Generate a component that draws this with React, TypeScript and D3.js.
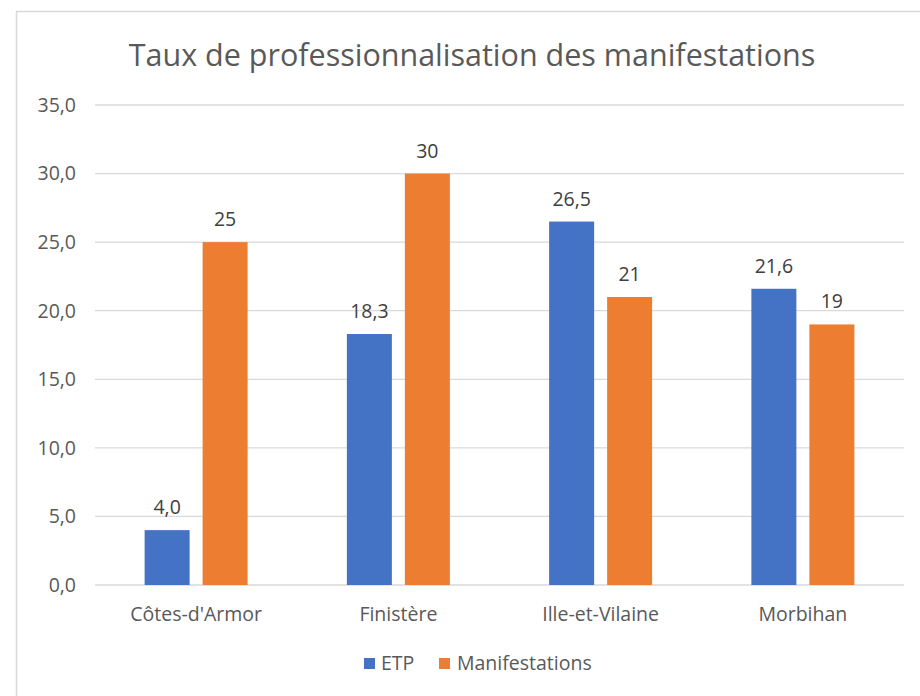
import React from "react";
import * as d3 from "d3";

const categories = ["Côtes-d'Armor", "Finistère", "Ille-et-Vilaine", "Morbihan"];
const seriesNames = ["ETP", "Manifestations"];
const etpValues = [4.0, 18.3, 26.5, 21.6];
const manifValues = [25, 30, 21, 19];
const etpLabels = ["4,0", "18,3", "26,5", "21,6"];
const manifLabels = ["25", "30", "21", "19"];
const yTicks = [0, 5, 10, 15, 20, 25, 30, 35];
const colors = ["#4472C4", "#ED7D31"];

const W = 920;
const H = 696;
const FONT = "'Open Sans', 'Noto Sans', sans-serif";
const FS = 19.5;

export default function App() {
  const plotLeft = 95;
  const plotRight = 904;
  const plotTop = 105;
  const plotBottom = 585;

  const y = d3.scaleLinear().domain([0, 35]).range([plotBottom, plotTop]);
  const x0 = d3.scaleBand<string>().domain(categories).range([plotLeft, plotRight]).paddingInner(0).paddingOuter(0);
  const bw = x0.bandwidth();
  const barW = 45;
  const gap = 13;
  const groupW = barW * 2 + gap;
  const x1 = d3
    .scaleOrdinal<string, number>()
    .domain(seriesNames)
    .range([(bw - groupW) / 2, (bw - groupW) / 2 + barW + gap]);

  const series = [
    { name: seriesNames[0], values: etpValues, labels: etpLabels, color: colors[0] },
    { name: seriesNames[1], values: manifValues, labels: manifLabels, color: colors[1] },
  ];

  const fmt = (v: number) => d3.format(".1f")(v).replace(".", ",");

  return (
    <svg
      width={W}
      height={H}
      style={{ position: "absolute", left: 0, top: 0, background: "#fff" }}
      fontFamily={FONT}
    >
      <rect x={0} y={0} width={W} height={H} fill="#fff" />
      {/* chart frame */}
      <rect x={16.5} y={11.5} width={W + 10} height={H + 10} fill="#fff" stroke="#d9d9d9" strokeWidth={1.5} />
      <text x={472} y={66} textAnchor="middle" fontSize={30.5} fill="#595959">
        Taux de professionnalisation des manifestations
      </text>
      {/* gridlines */}
      {yTicks.map((t) => (
        <g key={t}>
          <line x1={plotLeft} x2={plotRight} y1={y(t)} y2={y(t)} stroke="#d9d9d9" strokeWidth={1.3} />
          <text x={76} y={y(t)} dy="0.35em" textAnchor="end" fontSize={FS} fill="#595959">
            {fmt(t)}
          </text>
        </g>
      ))}
      {/* bars */}
      {series.map((s) =>
        categories.map((c, i) => {
          const bx = (x0(c) as number) + (x1(s.name) as number);
          const by = y(s.values[i]);
          return (
            <g key={s.name + c}>
              <rect x={bx} y={by} width={barW} height={plotBottom - by} fill={s.color} />
              <text x={bx + barW / 2} y={by - 16} textAnchor="middle" fontSize={FS} fill="#404040">
                {s.labels[i]}
              </text>
            </g>
          );
        })
      )}
      {/* category labels */}
      {categories.map((c) => (
        <text key={c} x={(x0(c) as number) + bw / 2} y={621} textAnchor="middle" fontSize={FS} fill="#595959">
          {c}
        </text>
      ))}
      {/* legend */}
      <rect x={364} y={658} width={11} height={11} fill={colors[0]} />
      <text x={381} y={670} fontSize={FS} fill="#595959">
        {seriesNames[0]}
      </text>
      <rect x={439} y={658} width={11} height={11} fill={colors[1]} />
      <text x={457} y={670} fontSize={FS} fill="#595959">
        {seriesNames[1]}
      </text>
    </svg>
  );
}
